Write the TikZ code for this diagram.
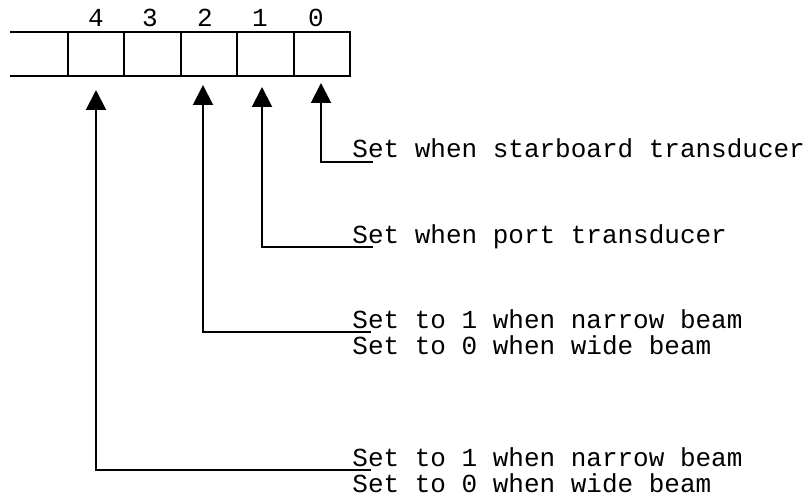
\documentclass[tikz,border=0pt]{standalone}
\usepackage{fontspec}
\setmonofont{Liberation Mono}
\usetikzlibrary{arrows.meta}

\tikzset{
  cell/.style={draw, line width=1pt, minimum width=28.2pt, minimum height=22pt,
    inner sep=0pt, outer sep=0pt},
  txt/.style={font=\ttfamily\fontsize{13}{13}\selectfont, inner sep=0pt,
    anchor=base west},
  bitline/.style={line width=1pt, -{Triangle[width=10pt,length=10pt]}},
}

\begin{document}
\begin{tikzpicture}[x=0.5pt, y=-0.5pt]
\useasboundingbox (0,0) rectangle (812,497);

%------------------ REGISTER ------------------%
\foreach \b/\cx/\lx in {4/96.2/96, 3/152.6/150, 2/209/205, 1/265.4/260, 0/321.8/316} {
  \node[cell] (b\b) at (\cx,54) {};
  \node[txt, anchor=base] (n\b) at (\lx,27) {\b};
}
\draw[line width=1pt] (10,32) -- (b4.north west);
\draw[line width=1pt] (10,76) -- (b4.south west);

%------------------ DESCRIPTIONS ------------------%
\node[txt] (s0) at (352,158) {Set when starboard transducer};
\node[txt] (s1) at (352,243) {Set when port transducer};
\node[txt] (s2) at (352,328) {Set to 1 when narrow beam};
\node[txt] (s2b) at ([yshift=-13.3pt]s2.base west) {Set to 0 when wide beam};
\node[txt] (s4) at (352,466) {Set to 1 when narrow beam};
\node[txt] (s4b) at ([yshift=-13.3pt]s4.base west) {Set to 0 when wide beam};

%------------------ POINTERS ------------------%
\coordinate (tip0) at (321,83);
\coordinate (tip1) at (262,87);
\coordinate (tip2) at (203,85);
\coordinate (tip4) at (96,90);

\draw[bitline] ([xshift=10.5pt,yshift=-2pt]s0.base west) -| (tip0);
\draw[bitline] ([xshift=10.5pt,yshift=-2pt]s1.base west) -| (tip1);
\draw[bitline] ([xshift=9.5pt,yshift=-2pt]s2.base west) -| (tip2);
\draw[bitline] ([xshift=9.5pt,yshift=-2pt]s4.base west) -| (tip4);

\end{tikzpicture}
\end{document}
